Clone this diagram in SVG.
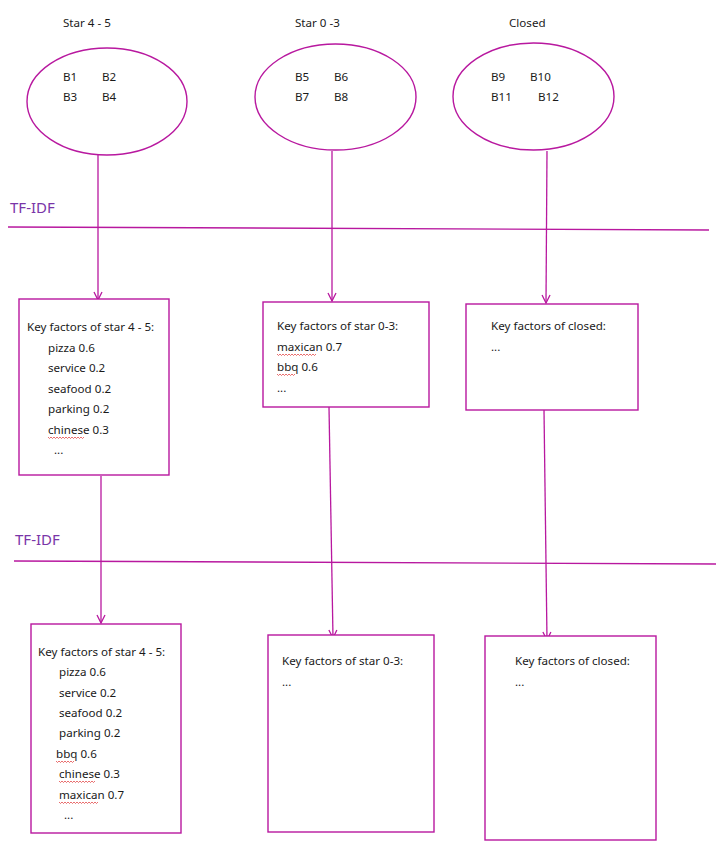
<svg xmlns="http://www.w3.org/2000/svg" width="727" height="848" viewBox="0 0 727 848">
<defs>
<style>
.t{font-family:"Noto Sans","Open Sans","Liberation Sans",sans-serif;font-size:11.6px;fill:#1a1a1a}
.tf{font-family:"Noto Sans","Open Sans","Liberation Sans",sans-serif;font-size:15px;fill:#7a35a8}
.s{fill:none;stroke:#b8189f;stroke-width:1.4}
.n{fill:#fff;stroke:#b8189f;stroke-width:1.4}
.c{fill:none;stroke:#b8189f;stroke-width:1.3}
.w{fill:none;stroke:#e03030;stroke-width:0.7}
</style>
<marker id="ah" viewBox="0 0 10 10" refX="9" refY="5" markerWidth="10" markerHeight="10" markerUnits="userSpaceOnUse" orient="auto">
<path d="M1,1 L9,5 L1,9" fill="none" stroke="#b8189f" stroke-width="1.3"/>
</marker>
</defs>
<rect width="727" height="848" fill="#fff"/>

<g id="titles">
<text class="t" x="63" y="27">Star 4 - 5</text>
<text class="t" x="295" y="27">Star 0 -3</text>
<text class="t" x="509" y="27">Closed</text>
</g>

<g id="tfidf1">
<path class="s" d="M8,227 L709,230"/>
<text class="tf" x="10" y="213">TF-IDF</text>
</g>
<g id="tfidf2">
<path class="s" d="M14,561 L716,564"/>
<text class="tf" x="15" y="545">TF-IDF</text>
</g>

<g id="connectors">
<path class="c" d="M98,155 L98,300" marker-end="url(#ah)"/>
<path class="c" d="M332,151 L332,301" marker-end="url(#ah)"/>
<path class="c" d="M547,151 L546,303" marker-end="url(#ah)"/>
<path class="c" d="M101,476 L101,623" marker-end="url(#ah)"/>
<path class="c" d="M329,407 L333,638" marker-end="url(#ah)"/>
<path class="c" d="M544,410 L547,640" marker-end="url(#ah)"/>
</g>

<g id="group-star45">
<ellipse class="n" cx="107" cy="101.5" rx="80" ry="53.5"/>
<text class="t" x="63" y="81">B1</text>
<text class="t" x="102" y="81">B2</text>
<text class="t" x="63" y="101">B3</text>
<text class="t" x="102" y="101">B4</text>
</g>
<g id="group-star03">
<ellipse class="n" cx="335.5" cy="97" rx="80.5" ry="53"/>
<text class="t" x="295" y="81">B5</text>
<text class="t" x="334" y="81">B6</text>
<text class="t" x="295" y="101">B7</text>
<text class="t" x="334" y="101">B8</text>
</g>
<g id="group-closed">
<ellipse class="n" cx="533.5" cy="96.5" rx="80.5" ry="53.5"/>
<text class="t" x="491" y="81">B9</text>
<text class="t" x="530" y="81">B10</text>
<text class="t" x="491" y="101">B11</text>
<text class="t" x="538" y="101">B12</text>
</g>

<g id="kf1-star45">
<rect class="n" x="19" y="299" width="150" height="176"/>
<text class="t" x="27" y="331">Key factors of star 4 - 5:</text>
<text class="t" x="48" y="352">pizza 0.6</text>
<text class="t" x="48" y="372">service 0.2</text>
<text class="t" x="48" y="393">seafood 0.2</text>
<text class="t" x="48" y="413">parking 0.2</text>
<text class="t" x="48" y="434">chinese 0.3</text>
<path class="w" d="M48,437 l1.5,1.5 l1.5,-1.5 l1.5,1.5 l1.5,-1.5 l1.5,1.5 l1.5,-1.5 l1.5,1.5 l1.5,-1.5 l1.5,1.5 l1.5,-1.5 l1.5,1.5 l1.5,-1.5 l1.5,1.5 l1.5,-1.5 l1.5,1.5 l1.5,-1.5 l1.5,1.5 l1.5,-1.5 l1.5,1.5 l1.5,-1.5 l1.5,1.5 l1.5,-1.5 l1.5,1.5 l1.5,-1.5"/>
<text class="t" x="54" y="454">...</text>
</g>

<g id="kf1-star03">
<rect class="n" x="263" y="302" width="166" height="105"/>
<text class="t" x="277" y="330">Key factors of star 0-3:</text>
<text class="t" x="277" y="351">maxican 0.7</text>
<path class="w" d="M277,354 l1.5,1.5 l1.5,-1.5 l1.5,1.5 l1.5,-1.5 l1.5,1.5 l1.5,-1.5 l1.5,1.5 l1.5,-1.5 l1.5,1.5 l1.5,-1.5 l1.5,1.5 l1.5,-1.5 l1.5,1.5 l1.5,-1.5 l1.5,1.5 l1.5,-1.5 l1.5,1.5 l1.5,-1.5 l1.5,1.5 l1.5,-1.5 l1.5,1.5 l1.5,-1.5 l1.5,1.5 l1.5,-1.5 l1.5,1.5 l1.5,-1.5"/>
<text class="t" x="277" y="371">bbq 0.6</text>
<path class="w" d="M277,374 l1.5,1.5 l1.5,-1.5 l1.5,1.5 l1.5,-1.5 l1.5,1.5 l1.5,-1.5 l1.5,1.5 l1.5,-1.5 l1.5,1.5 l1.5,-1.5 l1.5,1.5 l1.5,-1.5"/>
<text class="t" x="277" y="392">...</text>
</g>

<g id="kf1-closed">
<rect class="n" x="466" y="304" width="172" height="106"/>
<text class="t" x="491" y="330">Key factors of closed:</text>
<text class="t" x="491" y="351">...</text>
</g>

<g id="kf2-star45">
<rect class="n" x="31" y="624" width="150" height="209"/>
<text class="t" x="38" y="656">Key factors of star 4 - 5:</text>
<text class="t" x="59" y="676">pizza 0.6</text>
<text class="t" x="59" y="697">service 0.2</text>
<text class="t" x="59" y="717">seafood 0.2</text>
<text class="t" x="59" y="737">parking 0.2</text>
<text class="t" x="56" y="758">bbq 0.6</text>
<path class="w" d="M56,761 l1.5,1.5 l1.5,-1.5 l1.5,1.5 l1.5,-1.5 l1.5,1.5 l1.5,-1.5 l1.5,1.5 l1.5,-1.5 l1.5,1.5 l1.5,-1.5 l1.5,1.5 l1.5,-1.5"/>
<text class="t" x="59" y="778">chinese 0.3</text>
<path class="w" d="M59,781 l1.5,1.5 l1.5,-1.5 l1.5,1.5 l1.5,-1.5 l1.5,1.5 l1.5,-1.5 l1.5,1.5 l1.5,-1.5 l1.5,1.5 l1.5,-1.5 l1.5,1.5 l1.5,-1.5 l1.5,1.5 l1.5,-1.5 l1.5,1.5 l1.5,-1.5 l1.5,1.5 l1.5,-1.5 l1.5,1.5 l1.5,-1.5 l1.5,1.5 l1.5,-1.5 l1.5,1.5 l1.5,-1.5"/>
<text class="t" x="59" y="799">maxican 0.7</text>
<path class="w" d="M59,802 l1.5,1.5 l1.5,-1.5 l1.5,1.5 l1.5,-1.5 l1.5,1.5 l1.5,-1.5 l1.5,1.5 l1.5,-1.5 l1.5,1.5 l1.5,-1.5 l1.5,1.5 l1.5,-1.5 l1.5,1.5 l1.5,-1.5 l1.5,1.5 l1.5,-1.5 l1.5,1.5 l1.5,-1.5 l1.5,1.5 l1.5,-1.5 l1.5,1.5 l1.5,-1.5 l1.5,1.5 l1.5,-1.5 l1.5,1.5 l1.5,-1.5"/>
<text class="t" x="64" y="819">...</text>
</g>

<g id="kf2-star03">
<rect class="n" x="268" y="635" width="166" height="197"/>
<text class="t" x="282" y="665">Key factors of star 0-3:</text>
<text class="t" x="282" y="686">...</text>
</g>

<g id="kf2-closed">
<rect class="n" x="485" y="636" width="171" height="204"/>
<text class="t" x="515" y="665">Key factors of closed:</text>
<text class="t" x="515" y="686">...</text>
</g>
</svg>
